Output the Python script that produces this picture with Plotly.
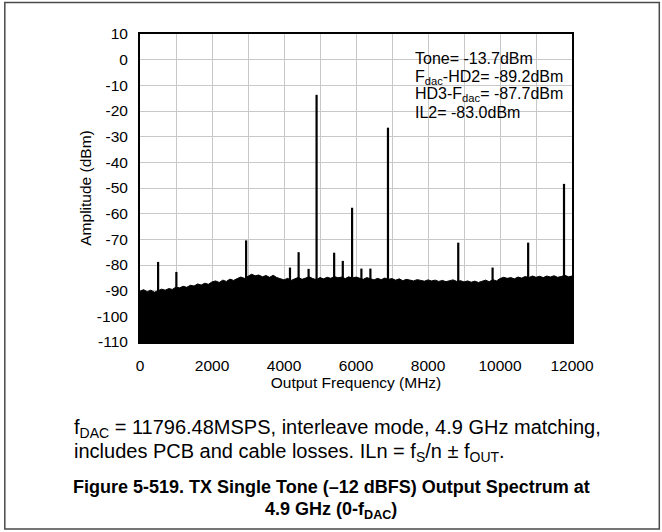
import plotly.graph_objects as go

# ---------------- data ----------------
noise_freq = list(range(0, 12001, 100))  # MHz, sample positions of the noise-floor envelope
noise_top = [
    -90.2, -89.6, -90.4, -89.8, -90.6, -89.9, -89.4, -89.8, -89.2, -89.5, -88.6,
    -88.9, -88.3, -88.7, -87.9, -88.2, -87.4, -87.8, -87.1, -87.5, -86.6,
    -86.2, -86.8, -85.9, -86.4, -85.5, -86.0, -85.3, -84.7, -85.2, -84.4,
    -83.6, -84.2, -83.9, -84.6, -84.1, -84.8, -84.0, -84.9, -85.3, -85.8,
    -85.2, -86.0, -85.4, -84.8, -85.6, -85.1, -84.6, -85.3, -85.7, -84.9,
    -85.4, -84.8, -85.2, -84.5, -85.0, -84.7, -85.3, -84.6, -85.1, -84.7,
    -85.2, -85.6, -84.9, -85.3, -85.8, -85.2, -85.7, -85.1, -85.6, -85.3,
    -85.9, -85.4, -86.1, -85.6, -85.9, -86.2, -85.7, -86.0, -86.3, -85.8,
    -86.2, -85.9, -86.4, -86.0, -86.5, -86.1, -85.8, -86.4, -86.1, -86.6,
    -86.2, -86.7, -86.3, -86.8, -86.4, -85.9, -86.5, -85.7, -86.2, -85.3,
    -84.8, -85.2, -84.9, -85.4, -84.7, -85.1, -84.5, -84.9, -84.3, -84.8,
    -84.4, -84.9, -84.3, -84.7, -84.2, -84.8, -84.5, -84.0, -84.6, -84.3,
]

spur_freq = [503, 1010, 2948, 4166, 4406, 4683, 4905, 5393, 5633, 5891,
             6150, 6400, 6888, 8840, 9794, 10782, 11778]
spur_amp = [-78.8, -82.7, -70.4, -81.0, -75.0, -81.5, -13.7, -75.2, -78.4, -57.7,
            -81.4, -81.4, -26.5, -71.3, -81.0, -71.3, -48.4]

stats_lines = [
    "Tone= -13.7dBm",
    "F<sub>dac</sub>-HD2= -89.2dBm",
    "HD3-F<sub>dac</sub>= -87.7dBm",
    "IL2= -83.0dBm",
]

x_ticks = [0, 2000, 4000, 6000, 8000, 10000, 12000]
y_ticks = list(range(10, -111, -10))

note_lines = [
    "f<sub>DAC</sub> = 11796.48MSPS, interleave mode, 4.9 GHz matching,",
    "includes PCB and cable losses. ILn = f<sub>S</sub>/n ± f<sub>OUT</sub>.",
]
caption_lines = [
    "<b>Figure 5-519. TX Single Tone (–12 dBFS) Output Spectrum at</b>",
    "<b>4.9 GHz (0-f<sub>DAC</sub>)</b>",
]

# ---------------- geometry ----------------
W, H = 662, 532
PL, PR, PT, PB = 139.5, 572.5, 34, 342  # plot area in pixels
Y_MIN, Y_MAX = -110, 10


def px(x):
    return (x - PL) / (PR - PL)


def py(y):
    return (PB - y) / (PB - PT)


FONT = "Liberation Sans, Arial, sans-serif"

fig = go.Figure()

# noise floor: filled band from the axis bottom up to the envelope
fig.add_trace(go.Scatter(
    x=noise_freq + noise_freq[::-1],
    y=noise_top + [Y_MIN] * len(noise_freq),
    fill="toself", fillcolor="black", mode="lines",
    line=dict(color="black", width=1), hoverinfo="skip", showlegend=False,
))

# spurs / tones as vertical lines from the bottom up to their peaks
sx, sy = [], []
for f, a in zip(spur_freq, spur_amp):
    sx += [f, f, None]
    sy += [Y_MIN, a, None]
fig.add_trace(go.Scatter(
    x=sx, y=sy, mode="lines", line=dict(color="black", width=2.2),
    hoverinfo="skip", showlegend=False,
))

annotations = []
# statistics text in upper right
stat_y = [58.5, 77, 94.5, 112]
for t, yy in zip(stats_lines, stat_y):
    annotations.append(dict(
        text=t, x=px(414), y=py(yy), xref="paper", yref="paper",
        xanchor="left", yanchor="middle", showarrow=False, align="left",
        borderpad=0, font=dict(family=FONT, size=16, color="black"),
    ))

# notes below the plot
for t, yy in zip(note_lines, [428, 452]):
    annotations.append(dict(
        text=t, x=px(72), y=py(yy), xref="paper", yref="paper",
        xanchor="left", yanchor="middle", showarrow=False, align="left",
        borderpad=0, font=dict(family=FONT, size=20, color="black"),
    ))
for t, yy in zip(caption_lines, [487, 510]):
    annotations.append(dict(
        text=t, x=px(331), y=py(yy), xref="paper", yref="paper",
        xanchor="center", yanchor="middle", showarrow=False, align="center",
        borderpad=0, font=dict(family=FONT, size=18, color="black"),
    ))

shapes = [
    # white panel behind the statistics text (hides the grid there)
    dict(type="rect", xref="paper", yref="paper",
         x0=px(408), x1=1, y0=py(130), y1=1,
         fillcolor="white", line=dict(width=0), layer="between"),
    # outer figure border
    dict(type="rect", xref="paper", yref="paper",
         x0=px(4), x1=px(660), y0=py(529), y1=py(2.5),
         fillcolor="rgba(0,0,0,0)", line=dict(color="#4a4a4a", width=1.5),
         layer="above"),
]

fig.update_layout(
    width=W, height=H,
    margin=dict(l=PL, r=W - PR, t=PT, b=H - PB, pad=0),
    paper_bgcolor="white", plot_bgcolor="white",
    font=dict(family=FONT, size=15, color="black"),
    showlegend=False,
    annotations=annotations,
    shapes=shapes,
)

fig.update_xaxes(
    range=[0, 12000], tickvals=x_ticks,
    ticktext=[str(v) for v in x_ticks],
    showgrid=True, gridcolor="#c8c8c8", gridwidth=1,
    minor=dict(dtick=1000, showgrid=True, gridcolor="#c8c8c8", gridwidth=1),
    showline=True, mirror=True, linecolor="black", linewidth=2,
    ticks="", ticklabelstandoff=8, zeroline=False,
    tickfont=dict(family=FONT, size=15.5),
    title=dict(text="Output Frequency (MHz)", standoff=3,
               font=dict(family=FONT, size=15.5)),
)
fig.update_yaxes(
    range=[Y_MIN, Y_MAX], tickvals=y_ticks,
    ticktext=[str(v) for v in y_ticks],
    showgrid=True, gridcolor="#c8c8c8", gridwidth=1,
    showline=True, mirror=True, linecolor="black", linewidth=2,
    ticks="", ticklabelstandoff=7, zeroline=False,
    tickfont=dict(family=FONT, size=15.5),
    title=dict(text="Amplitude (dBm)", standoff=1,
               font=dict(family=FONT, size=15.5)),
)

fig.write_html(
    "out.html",
    config={"displayModeBar": False},
    post_script="document.body.style.margin='0';document.body.style.padding='0';",
)
